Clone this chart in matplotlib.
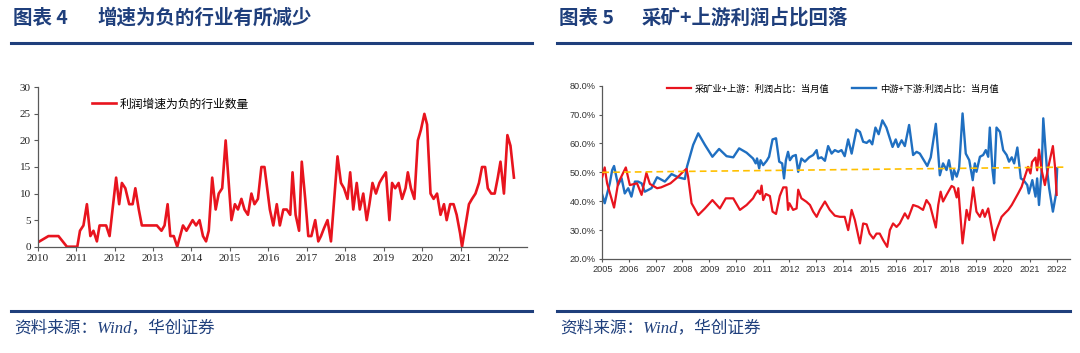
import matplotlib
matplotlib.use("Agg")
import matplotlib.pyplot as plt
from matplotlib.lines import Line2D
from matplotlib.ticker import FuncFormatter, MultipleLocator

# ---------------- data: left chart ----------------
neg_dates = [2010.00, 2010.28, 2010.54, 2010.76, 2011.03, 2011.10, 2011.19, 2011.28, 2011.37, 2011.45,
             2011.54, 2011.61, 2011.78, 2011.87, 2012.04, 2012.12, 2012.19, 2012.28, 2012.38, 2012.47,
             2012.54, 2012.63, 2012.71, 2013.10, 2013.22, 2013.30, 2013.38, 2013.45, 2013.54, 2013.63,
             2013.78, 2013.87, 2014.03, 2014.12, 2014.21, 2014.30, 2014.38, 2014.45, 2014.54, 2014.63,
             2014.71, 2014.80, 2014.89, 2015.04, 2015.13, 2015.21, 2015.30, 2015.38, 2015.47, 2015.56,
             2015.64, 2015.73, 2015.82, 2015.90, 2015.97, 2016.04, 2016.13, 2016.22, 2016.30, 2016.39,
             2016.48, 2016.57, 2016.63, 2016.71, 2016.80, 2016.87, 2016.96, 2017.04, 2017.12, 2017.22,
             2017.30, 2017.37, 2017.45, 2017.54, 2017.63, 2017.80, 2017.89, 2017.97, 2018.06, 2018.13,
             2018.21, 2018.30, 2018.38, 2018.47, 2018.56, 2018.63, 2018.71, 2018.80, 2018.89, 2018.97,
             2019.06, 2019.15, 2019.22, 2019.30, 2019.39, 2019.48, 2019.57, 2019.63, 2019.71, 2019.80,
             2019.89, 2019.97, 2020.06, 2020.13, 2020.22, 2020.30, 2020.39, 2020.48, 2020.57, 2020.64,
             2020.73, 2020.82, 2020.90, 2020.99, 2021.04, 2021.13, 2021.22, 2021.30, 2021.39, 2021.48,
             2021.56, 2021.64, 2021.71, 2021.80, 2021.89, 2021.97, 2022.04, 2022.13, 2022.22, 2022.30,
             2022.39]
neg_counts = [0.8, 2, 2, 0, 0, 3, 4, 8, 2, 3,
              1, 4, 4, 2, 13, 8, 12, 11, 8, 8,
              11, 7, 4, 4, 3, 4, 8, 2, 2, 0,
              4, 3, 5, 4, 5, 2, 1, 3, 13, 7,
              10, 11, 20, 5, 8, 7, 9, 7, 6, 10,
              8, 9, 15, 15, 11, 7, 4, 8, 4, 7,
              7, 6, 14, 6, 3, 16, 9, 2, 2, 5,
              1, 2, 3.5, 5, 1, 17, 12, 11, 9, 14,
              7, 12, 7, 10, 5, 8, 12, 10, 12, 13,
              14, 5, 12, 11, 12, 9, 11, 14, 11, 9,
              20, 22, 25, 23, 10, 9, 10, 6, 8, 5,
              8, 8, 6, 2.5, 0, 4, 8, 9, 10, 12,
              15, 15, 11, 10, 10, 13, 16, 10, 21, 19,
              13]
left_years = list(range(2010, 2023))
left_label = "利润增速为负的行业数量"

# ---------------- data: right chart ----------------
up_dates = [2005.00, 2005.09, 2005.18, 2005.44, 2005.59, 2005.88, 2006.03, 2006.30, 2006.47, 2006.65,
            2006.78, 2007.05, 2007.20, 2007.55, 2007.84, 2008.02, 2008.15, 2008.21, 2008.34, 2008.59,
            2008.84, 2009.12, 2009.40, 2009.62, 2009.90, 2010.15, 2010.40, 2010.64, 2010.74, 2010.83,
            2010.90, 2010.96, 2011.02, 2011.12, 2011.27, 2011.37, 2011.50, 2011.64, 2011.77, 2011.89,
            2011.95, 2012.00, 2012.14, 2012.27, 2012.33, 2012.45, 2012.64, 2012.77, 2012.89, 2013.02,
            2013.14, 2013.33, 2013.51, 2013.70, 2013.89, 2014.07, 2014.20, 2014.33, 2014.45, 2014.64,
            2014.76, 2014.89, 2015.00, 2015.14, 2015.26, 2015.38, 2015.51, 2015.66, 2015.76, 2015.88,
            2016.01, 2016.13, 2016.32, 2016.44, 2016.63, 2016.82, 2017.00, 2017.13, 2017.26, 2017.48,
            2017.57, 2017.66, 2017.75, 2017.88, 2018.07, 2018.16, 2018.26, 2018.32, 2018.48, 2018.63,
            2018.73, 2018.88, 2019.00, 2019.13, 2019.23, 2019.31, 2019.44, 2019.57, 2019.66, 2019.75,
            2019.94, 2020.06, 2020.19, 2020.32, 2020.56, 2020.69, 2020.81, 2020.93, 2021.02, 2021.08,
            2021.21, 2021.27, 2021.34, 2021.44, 2021.56, 2021.69, 2021.86, 2021.94, 2022.00]
up_share = [48.5, 51.7, 46.2, 37.8, 46.2, 51.7, 45.6, 46.2, 42.2, 49.8,
            46.0, 44.5, 44.8, 46.2, 48.5, 50.2, 51.2, 48.5, 39.3, 35.2,
            37.5, 40.4, 37.5, 41.0, 41.0, 37.0, 38.7, 41.0, 42.7, 43.7,
            42.5, 45.4, 40.4, 42.5, 41.8, 36.4, 35.6, 41.8, 44.8, 44.8,
            37.0, 39.3, 37.0, 37.5, 44.0, 41.0, 39.8, 38.7, 36.4, 34.6,
            37.0, 39.9, 37.0, 35.0, 34.6, 34.6, 30.0, 37.0, 33.5, 25.4,
            32.3, 32.0, 28.8, 27.1, 28.8, 28.8, 26.5, 24.2, 30.0, 32.3,
            31.1, 32.3, 35.8, 34.0, 38.7, 38.1, 37.0, 40.4, 38.7, 30.9,
            38.7, 43.3, 39.9, 42.2, 45.3, 44.8, 41.3, 44.5, 25.4, 37.0,
            33.5, 44.8, 36.4, 34.6, 37.0, 34.6, 37.5, 31.1, 26.5, 30.0,
            34.6, 35.8, 37.0, 38.7, 42.7, 45.0, 48.5, 51.9, 49.6, 53.6,
            55.1, 50.7, 57.9, 50.7, 45.6, 51.9, 59.1, 51.9, 42.2]

down_dates = [2005.00, 2005.09, 2005.28, 2005.37, 2005.44, 2005.59, 2005.72, 2005.84, 2005.97, 2006.09,
              2006.22, 2006.34, 2006.47, 2006.59, 2006.84, 2007.05, 2007.34, 2007.59, 2007.84, 2008.09,
              2008.17, 2008.40, 2008.59, 2008.84, 2009.12, 2009.37, 2009.65, 2009.90, 2010.12, 2010.40,
              2010.64, 2010.74, 2010.79, 2010.87, 2010.92, 2011.02, 2011.15, 2011.24, 2011.37, 2011.50,
              2011.62, 2011.73, 2011.80, 2011.87, 2011.95, 2012.02, 2012.12, 2012.24, 2012.33, 2012.45,
              2012.58, 2012.74, 2012.89, 2013.02, 2013.08, 2013.20, 2013.33, 2013.45, 2013.58, 2013.70,
              2013.83, 2013.95, 2014.07, 2014.20, 2014.33, 2014.51, 2014.64, 2014.76, 2014.89, 2015.00,
              2015.10, 2015.22, 2015.34, 2015.48, 2015.63, 2015.76, 2015.86, 2015.98, 2016.07, 2016.20,
              2016.32, 2016.48, 2016.63, 2016.76, 2016.88, 2017.03, 2017.16, 2017.29, 2017.48, 2017.57,
              2017.63, 2017.75, 2017.88, 2017.97, 2018.10, 2018.16, 2018.26, 2018.35, 2018.48, 2018.60,
              2018.73, 2018.86, 2018.94, 2019.00, 2019.13, 2019.25, 2019.35, 2019.44, 2019.50, 2019.60,
              2019.66, 2019.75, 2019.88, 2020.00, 2020.13, 2020.22, 2020.32, 2020.41, 2020.53, 2020.66,
              2020.76, 2020.90, 2020.96, 2021.09, 2021.21, 2021.27, 2021.34, 2021.44, 2021.50, 2021.63,
              2021.72, 2021.86, 2021.98, 2022.02]
down_share = [42.2, 39.3, 46.2, 50.8, 52.2, 45.6, 48.0, 42.7, 44.5, 41.6,
              46.8, 46.8, 46.2, 43.3, 44.5, 48.3, 46.8, 49.4, 48.3, 47.7,
              52.0, 59.5, 63.5, 59.5, 55.4, 58.1, 55.6, 55.2, 58.3, 56.8,
              54.8, 53.1, 54.8, 51.4, 54.2, 52.5, 54.0, 55.4, 61.4, 61.8,
              53.7, 53.1, 47.9, 54.2, 57.1, 54.2, 55.6, 56.0, 50.2, 54.8,
              53.7, 55.2, 56.0, 57.7, 54.8, 55.2, 54.0, 59.1, 56.5, 57.7,
              57.1, 57.7, 55.6, 61.4, 56.5, 64.8, 64.0, 60.6, 60.2, 61.1,
              59.7, 65.5, 63.2, 68.0, 65.5, 61.7, 58.8, 61.4, 58.8, 61.1,
              59.1, 66.4, 56.0, 57.1, 56.5, 54.2, 52.2, 55.2, 66.8, 56.5,
              49.0, 53.1, 50.8, 54.2, 47.5, 50.8, 48.5, 51.4, 70.4, 56.5,
              54.2, 47.3, 53.1, 50.2, 55.4, 56.0, 57.7, 55.4, 65.5, 50.8,
              46.2, 65.5, 64.0, 57.7, 56.0, 53.7, 55.2, 53.1, 58.6, 47.9,
              47.3, 45.6, 42.7, 47.3, 41.6, 47.9, 38.7, 50.8, 68.7, 51.9,
              44.5, 36.4, 42.7, 51.4]

trend_dates = [2005.0, 2022.25]
trend_values = [50.0, 51.8]
right_years = list(range(2005, 2023))
up_label = "采矿业+上游：利润占比：当月值"
down_label = "中游+下游:利润占比：当月值"

# ---------------- figure ----------------
W, H = 1080, 353
fig = plt.figure(figsize=(W / 100, H / 100), dpi=100)
fig.patch.set_facecolor("white")

CJK = ["Noto Sans CJK SC", "DejaVu Sans"]
NAVY = "#1f3f7c"
RED = "#e8141e"
BLUE = "#1f6fc1"
YEL = "#ffc000"
AX = "#595959"


def fx(px):
    return px / W


def fy(py):
    return 1 - py / H


# headers / footers
for x0, x1, num, title, tx in [(11, 532, "图表 4", "增速为负的行业有所减少", 97),
                               (557, 1070, "图表 5", "采矿+上游利润占比回落", 642)]:
    fig.text(fx(x0 + 2), fy(18), num, family=CJK, fontsize=14, fontweight="bold",
             color=NAVY, va="center", ha="left")
    fig.text(fx(tx), fy(18), title, family=CJK, fontsize=14, fontweight="bold",
             color=NAVY, va="center", ha="left")
    fig.add_artist(Line2D([fx(x0), fx(x1)], [fy(43), fy(43)], color=NAVY, lw=2.2))
    fig.add_artist(Line2D([fx(x0), fx(x1)], [fy(311), fy(311)], color=NAVY, lw=2.2))
    fig.text(fx(x0 + 3), fy(328), "资料来源：Wind，华创证券",
             family=["Liberation Serif", "Noto Sans CJK SC"], style="italic",
             fontsize=12, color=NAVY, va="center", ha="left")

# ---------------- left chart ----------------
axL = fig.add_axes([fx(37.7), fy(246.7), fx(527) - fx(37.7), fy(87.3) - fy(246.7)])
axL.plot(neg_dates, neg_counts, color=RED, lw=1.9, label=left_label)
axL.set_xlim(2010, 2022.73)
axL.set_ylim(0, 30)
axL.set_xticks(left_years)
axL.set_xticklabels([str(y) for y in left_years])
axL.yaxis.set_major_locator(MultipleLocator(5))
for s in ["top", "right"]:
    axL.spines[s].set_visible(False)
for s in ["left", "bottom"]:
    axL.spines[s].set_color(AX)
    axL.spines[s].set_linewidth(0.9)
axL.tick_params(axis="both", colors=AX, labelcolor="#222222", length=3, width=0.8,
                labelsize=8, pad=2)
for lab in axL.get_xticklabels() + axL.get_yticklabels():
    lab.set_family("Liberation Serif")
leg = axL.legend(loc="center left", bbox_to_anchor=(0.111, 0.895), frameon=False,
                 borderpad=0, borderaxespad=0, handlelength=2.0, handletextpad=0.3,
                 prop={"family": CJK, "size": 8.5})

# ---------------- right chart ----------------
axR = fig.add_axes([fx(602.3), fy(259), fx(1070) - fx(602.3), fy(85.7) - fy(259)])
axR.plot(up_dates, up_share, color=RED, lw=1.6, label=up_label, zorder=3)
axR.plot(down_dates, down_share, color=BLUE, lw=1.7, label=down_label, zorder=2)
axR.plot(trend_dates, trend_values, color=YEL, lw=1.2, ls=(0, (4, 2.5)), zorder=4)
axR.set_xlim(2005, 2022.5)
axR.set_ylim(20, 80)
axR.set_xticks(right_years)
axR.set_xticklabels([str(y) for y in right_years])
axR.yaxis.set_major_locator(MultipleLocator(10))
axR.yaxis.set_major_formatter(FuncFormatter(lambda v, p: f"{v:.1f}%"))
for s in ["top", "right"]:
    axR.spines[s].set_visible(False)
for s in ["left", "bottom"]:
    axR.spines[s].set_color(AX)
    axR.spines[s].set_linewidth(0.9)
axR.tick_params(axis="both", colors=AX, labelcolor="#333333", length=2.5, width=0.8,
                labelsize=6.6, pad=2)
for lab in axR.get_xticklabels() + axR.get_yticklabels():
    lab.set_family("Liberation Sans")
axR.legend(loc="center left", bbox_to_anchor=(0.138, 0.981), frameon=False, ncol=2,
           borderpad=0, borderaxespad=0, handlelength=2.6, handletextpad=0.4,
           columnspacing=2.4, prop={"family": CJK, "size": 6.7})

fig.savefig("out.png", dpi=100, facecolor="white")
